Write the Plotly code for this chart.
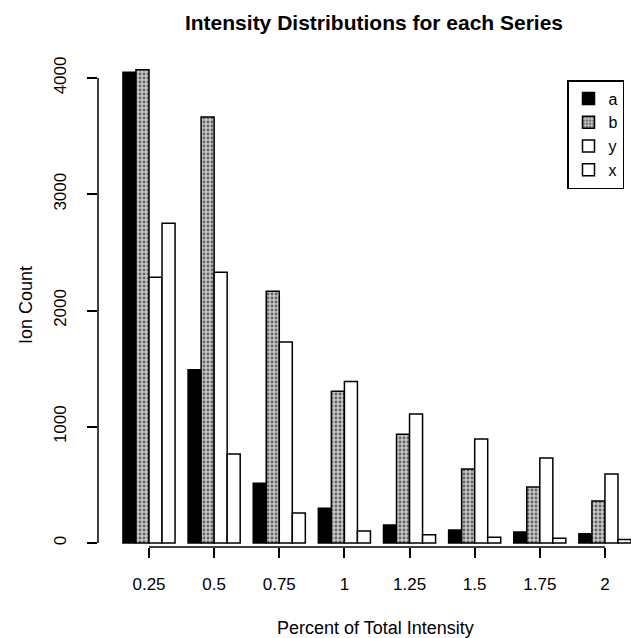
import plotly.graph_objects as go

# ---- data ----
categories = ["0.25", "0.5", "0.75", "1", "1.25", "1.5", "1.75", "2"]
series_names = ["a", "b", "y", "x"]
a_vals = [4050, 1490, 515, 300, 155, 112, 95, 80]
b_vals = [4070, 3665, 2165, 1305, 935, 637, 482, 361]
y_vals = [2285, 2330, 1730, 1390, 1110, 895, 731, 593]
x_vals = [2750, 765, 258, 103, 70, 50, 40, 30]
y_ticks = [0, 1000, 2000, 3000, 4000]

FONT = "Liberation Sans, Arial, Helvetica, sans-serif"
W, H = 631, 638
ML, MR, MT, MB = 98, 0, 60, 91

pos = list(range(len(categories)))

styles = {
    "a": dict(color="black"),
    "b": dict(color="#c8c8c8", pattern=dict(shape=".", fgcolor="black", size=4, solidity=0.4)),
    "y": dict(color="white"),
    "x": dict(color="white"),
}
vals = {"a": a_vals, "b": b_vals, "y": y_vals, "x": x_vals}

fig = go.Figure()
for name in series_names:
    m = dict(styles[name])
    m["line"] = dict(color="black", width=1.5)
    fig.add_trace(go.Bar(x=pos, y=vals[name], name=name, marker=m))

fig.update_layout(
    width=W, height=H,
    margin=dict(l=ML, r=MR, t=MT, b=MB, autoexpand=False),
    paper_bgcolor="white", plot_bgcolor="white",
    barmode="group", bargap=0.2, bargroupgap=0,
    font=dict(family=FONT, color="black", size=17),
    title=dict(text="<b>Intensity Distributions for each Series</b>",
               x=374 / W, xanchor="center", y=1 - 23 / H, yanchor="middle",
               font=dict(size=21, family=FONT, color="black")),
    showlegend=True,
    legend=dict(x=(567 - ML) / (W - ML - MR), xanchor="left",
                y=(H - MB - 80) / (H - MT - MB), yanchor="top",
                bordercolor="black", borderwidth=1.5, bgcolor="white",
                font=dict(size=16, family=FONT), traceorder="normal",
                tracegroupgap=0, entrywidth=75, entrywidthmode="pixels"),
    xaxis=dict(range=[-0.783, 7.4], tickvals=pos, ticktext=categories,
               showgrid=False, zeroline=False, showline=False,
               ticks="outside", ticklen=10, tickwidth=1.5, tickcolor="black",
               tickfont=dict(size=17), ticklabelstandoff=12),
    yaxis=dict(range=[-34.4, (H - MB - MT) / 0.11625 - 34.4], tickvals=y_ticks,
               showgrid=False, zeroline=False, showline=False,
               ticks="outside", ticklen=10, tickwidth=1.5, tickcolor="black",
               tickangle=-90, tickfont=dict(size=17), ticklabelstandoff=14),
)

# R-style axis lines spanning only the tick range
fig.add_shape(type="line", xref="paper", yref="y", x0=0, x1=0,
              y0=y_ticks[0], y1=y_ticks[-1], line=dict(color="black", width=1.5))
fig.add_shape(type="line", xref="x", yref="paper", x0=pos[0], x1=pos[-1],
              y0=0, y1=0, line=dict(color="black", width=1.5))

fig.add_annotation(text="Percent of Total Intensity", xref="paper", yref="paper",
                   x=(375 - ML) / (W - ML - MR), y=-(628 - (H - MB)) / (H - MT - MB),
                   xanchor="center", yanchor="middle", showarrow=False,
                   font=dict(size=18, family=FONT))
fig.add_annotation(text="Ion Count", xref="paper", yref="paper",
                   x=-(ML - 26) / (W - ML - MR), y=(H - MB - 305) / (H - MT - MB),
                   xanchor="center", yanchor="middle", textangle=-90, showarrow=False,
                   font=dict(size=18, family=FONT))

fig.write_html("out.html", config={"displayModeBar": False},
               post_script="document.body.style.margin='0';document.body.style.overflow='hidden';")
